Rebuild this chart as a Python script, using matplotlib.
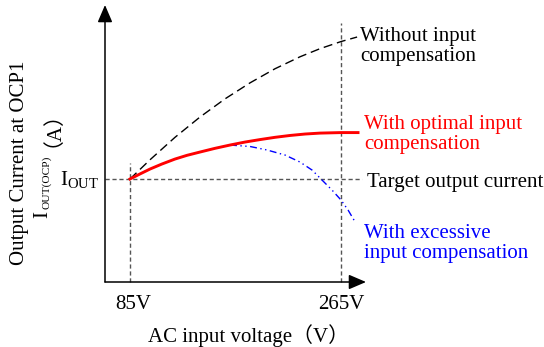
import matplotlib
matplotlib.use("Agg")
import matplotlib.pyplot as plt

plt.rcParams["font.family"] = ["Liberation Serif", "Noto Sans CJK SC"]
plt.rcParams["mathtext.fontset"] = "custom"
plt.rcParams["mathtext.rm"] = "Liberation Serif"
plt.rcParams["mathtext.it"] = "Liberation Serif:italic"

# --- data (AC input voltage in V, output current in units of I_OUT) ---
v_low = 85
v_high = 265
i_target = 1.0

v_without = [85.0, 102.1, 123.4, 144.7, 166.0, 187.4, 208.7, 230.0, 247.1, 265.0, 278.7]
i_without = [1.000, 1.187, 1.405, 1.602, 1.778, 1.934, 2.071, 2.187, 2.266, 2.335, 2.379]

v_optimal = [85.0, 93.5, 102.1, 112.3, 123.4, 133.6, 144.7, 157.5, 170.3,
             183.1, 195.9, 208.7, 221.5, 234.3, 247.1, 265.0, 279.5]
i_optimal = [1.000, 1.049, 1.097, 1.146, 1.194, 1.230, 1.262, 1.298, 1.330,
             1.359, 1.383, 1.405, 1.423, 1.437, 1.446, 1.451, 1.451]

v_excess = [170.3, 187.4, 201.9, 217.2, 230.0, 240.3, 248.8, 257.3, 265.0, 271.0, 277.0]
i_excess = [1.330, 1.316, 1.282, 1.233, 1.165, 1.087, 0.990, 0.893, 0.796, 0.699, 0.583]

FS = 15
LS = 1.07
GRAY = "#555555"

fig = plt.figure(figsize=(5.44, 3.47), dpi=100)
ax = fig.add_axes([105 / 544, 1 - 282 / 347, 261 / 544, 277 / 347])
ax.set_xlim(63.7, 286.3)
ax.set_ylim(0, 2.69)
ax.axis("off")

# axes with arrow heads
arrow = dict(arrowstyle="-|>,head_length=0.7,head_width=0.3", color="black",
             lw=1.1, shrinkA=0, shrinkB=0, mutation_scale=15)
ax.annotate("", xy=(0, 1), xytext=(0, 0), xycoords="axes fraction", arrowprops=arrow)
ax.annotate("", xy=(1, 0), xytext=(0, 0), xycoords="axes fraction", arrowprops=arrow)

# guide lines
ax.plot([63.7, 282.9], [i_target, i_target], color=GRAY, lw=1, dashes=(3, 2), clip_on=False)
ax.plot([v_low, v_low], [0, 1.155], color=GRAY, lw=1, dashes=(3, 2), clip_on=False)
ax.plot([v_high, v_high], [0, 2.52], color=GRAY, lw=1, dashes=(3, 2), clip_on=False)

# curves
ax.plot(v_without, i_without, color="black", lw=1, dashes=(6.5, 3.5), clip_on=False)
ax.plot(v_excess, i_excess, color="blue", lw=1, dashes=(5, 2.5, 1, 2.5, 1, 2.5), clip_on=False)
ax.plot(v_optimal, i_optimal, color="red", lw=2.1, clip_on=False)

# curve labels
ax.text(281.2, 2.29, "Without input\ncompensation", fontsize=FS, va="center",
        linespacing=LS)
ax.text(284.6, 1.43, "With optimal input\ncompensation", fontsize=FS, va="center",
        color="red", linespacing=LS)
ax.text(287.2, 0.97, "Target output current", fontsize=FS, va="center")
ax.text(284.6, 0.37, "With excessive\ninput compensation", fontsize=FS, va="center",
        color="blue", linespacing=LS)

# tick-like labels
ax.text(58.6, 1.0, r"$\mathrm{I_{OUT}}$", fontsize=FS, ha="right", va="center")
ax.text(87.6, -0.22, "85V", fontsize=FS, ha="center", va="center")
ax.text(265.4, -0.22, "265V", fontsize=FS, ha="center", va="center")
ax.text(185.7, -0.52, "AC input voltage（V）", fontsize=FS, ha="center", va="center")

# y label (two lines, rotated); second line built from pieces
fig.text(20 / 544, 1 - 163 / 347, "Output Current at OCP1", fontsize=FS,
         rotation=90, ha="center", va="center")
fig.text(43 / 544, 1 - 218 / 347, "I", fontsize=FS,
         rotation=90, ha="center", va="bottom")
fig.text(47 / 544, 1 - 209 / 347, "OUT(OCP)", fontsize=8.2,
         rotation=90, ha="center", va="bottom")
fig.text(43 / 544, 1 - 147 / 347, "（A）", fontsize=FS,
         rotation=90, ha="center", va="bottom")

fig.savefig("out.png", dpi=100)
